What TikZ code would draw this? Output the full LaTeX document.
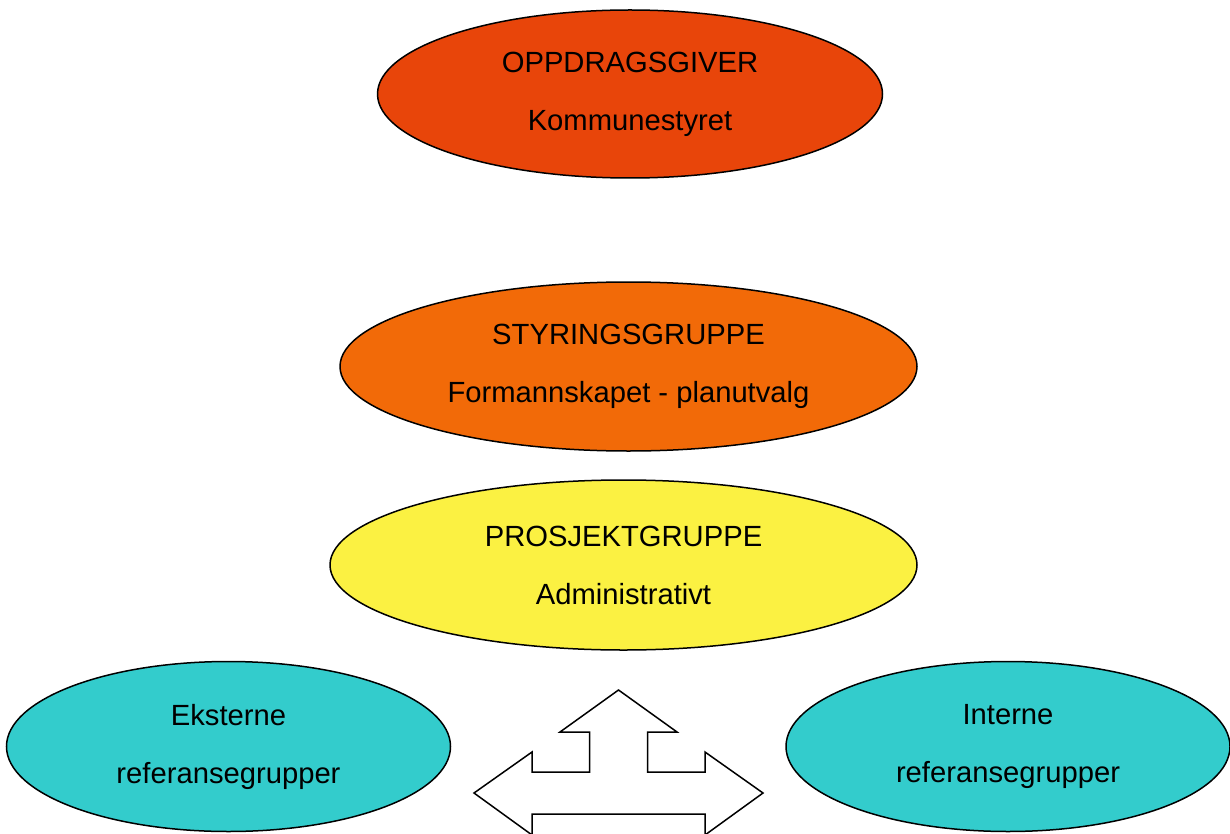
\documentclass[tikz,border=0pt]{standalone}
\usepackage{xcolor}
\usepackage{fontspec}
\setmainfont{Liberation Sans}
\usepackage{tikz}
\usetikzlibrary{shapes.geometric, positioning}

\definecolor{oppdragfarge}{HTML}{E8450A}
\definecolor{styringfarge}{HTML}{F26A08}
\definecolor{prosjektfarge}{HTML}{FBF142}
\definecolor{referansefarge}{HTML}{33CCCC}

\begin{document}
\begin{tikzpicture}[x=0.5pt, y=-0.5pt,
    every node/.style={font=\fontsize{14.6}{29}\selectfont, align=center, inner sep=0pt},
    gruppe/.style={ellipse, draw=black, line width=0.75pt}]
    % fast ramme (1230 x 834)
    \useasboundingbox (0,0) rectangle (1230,834);
    \clip (0,0) rectangle (1230,834);

    % de tre nivaaene i midten
    \node[gruppe, fill=oppdragfarge, minimum width=252.5pt, minimum height=84pt] (oppdrag) at (630,94) {OPPDRAGSGIVER\\Kommunestyret};
    \node[gruppe, fill=styringfarge, minimum width=288.5pt, minimum height=84.5pt] (styring) at (628.5,366.5) {STYRINGSGRUPPE\\Formannskapet - planutvalg};
    \node[gruppe, fill=prosjektfarge, minimum width=293.5pt, minimum height=85pt] (prosjekt) at (623.5,565) {PROSJEKTGRUPPE\\Administrativt};

    % referansegruppene nederst
    \node[gruppe, fill=referansefarge, minimum width=222pt, minimum height=85pt] (eksterne) at (228.5,746.5) {Eksterne\\referansegrupper};
    \node[gruppe, fill=referansefarge, minimum width=222pt, minimum height=85pt] (interne) at (1008,746.5) {Interne\\referansegrupper};

    % trevegs pil mellom gruppene
    \draw[line width=0.75pt, fill=white, line join=miter]
        (618.5,690) -- (677,732) -- (647.5,732) -- (647.5,772) -- (705,772) -- (705,752)
        -- (763,793) -- (705,835) -- (705,814) -- (532,814) -- (532,835) -- (474,793)
        -- (532,752) -- (532,772) -- (589.5,772) -- (589.5,732) -- (560,732) -- cycle;
\end{tikzpicture}
\end{document}
